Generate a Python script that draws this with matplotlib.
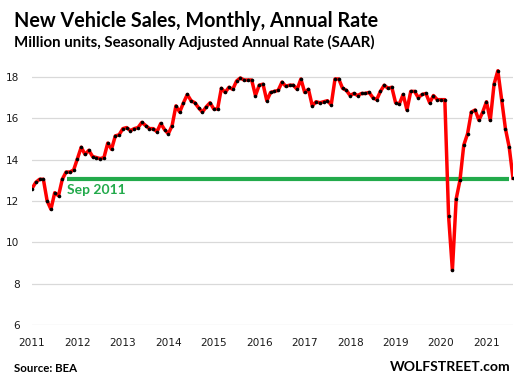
import numpy as np
import matplotlib
matplotlib.use("Agg")
import matplotlib.pyplot as plt

# monthly SAAR, million units, Jan 2011 .. Aug 2021
sales_2011 = [12.6, 12.9, 13.05, 13.05, 12.0, 11.6, 12.4, 12.25, 13.05, 13.4, 13.4, 13.5]
sales_2012 = [14.05, 14.6, 14.25, 14.45, 14.15, 14.1, 14.05, 14.1, 14.8, 14.5, 15.15, 15.2]
sales_2013 = [15.5, 15.55, 15.4, 15.5, 15.55, 15.8, 15.65, 15.5, 15.5, 15.35, 15.75, 15.45]
sales_2014 = [15.25, 15.65, 16.6, 16.3, 16.75, 17.15, 16.85, 16.75, 16.5, 16.3, 16.55, 16.75]
sales_2015 = [16.45, 16.45, 17.45, 17.25, 17.5, 17.4, 17.8, 17.95, 17.85, 17.85, 17.85, 17.1]
sales_2016 = [17.6, 17.65, 16.85, 17.25, 17.3, 17.35, 17.75, 17.55, 17.6, 17.6, 17.4, 17.9]
sales_2017 = [17.25, 17.4, 16.6, 16.8, 16.75, 16.8, 16.85, 16.65, 17.9, 17.9, 17.45, 17.35]
sales_2018 = [17.1, 17.2, 17.1, 17.2, 17.2, 17.25, 17.0, 16.9, 17.3, 17.6, 17.45, 17.5]
sales_2019 = [16.75, 16.7, 17.15, 16.4, 17.3, 17.3, 17.0, 17.15, 17.2, 16.75, 17.1, 16.9]
sales_2020 = [16.9, 16.9, 11.25, 8.65, 12.1, 13.0, 14.7, 15.25, 16.3, 16.4, 15.9, 16.3]
sales_2021 = [16.8, 15.9, 17.65, 18.3, 16.9, 15.5, 14.6, 13.1]

sales = (sales_2011 + sales_2012 + sales_2013 + sales_2014 + sales_2015 + sales_2016
         + sales_2017 + sales_2018 + sales_2019 + sales_2020 + sales_2021)
years = [str(y) for y in range(2011, 2022)]
y_ticks = [6, 8, 10, 12, 14, 16, 18]

ref_level = sales_2011[8]   # Sep 2011
ref_label = "Sep 2011"

x = np.arange(len(sales))

fig = plt.figure(figsize=(5.23, 3.80), dpi=100)
ax = fig.add_axes([32 / 523, 1 - 325 / 380, 481 / 523, (325 - 56.25) / 380])

ax.set_xlim(0, len(sales) - 1)
ax.set_ylim(6, 19)
ax.set_yticks(y_ticks)
ax.set_xticks(np.arange(0, len(sales), 12))
ax.set_xticklabels(years)
for s in ax.spines.values():
    s.set_visible(False)
ax.grid(axis="y", color="#d9d9d9", linewidth=0.9)
ax.set_axisbelow(True)
ax.tick_params(length=0, labelsize=7.6, colors="#1a1a1a")
ax.tick_params(axis="y", pad=9)
ax.tick_params(axis="x", pad=9)

ax.hlines(ref_level, 9.2, 125.9, color="#22aa4b", linewidth=3, zorder=2)
ax.text(9.2, ref_level - 0.25, ref_label, color="#22aa4b", fontsize=10,
        fontweight="bold", family="Lato", va="top", ha="left")

ax.plot(x, sales, color="#ff0000", linewidth=2.5, zorder=3,
        marker="o", markersize=2.6, markerfacecolor="black",
        markeredgecolor="black", markeredgewidth=0)

fig.text(14 / 523, 0.972, "New Vehicle Sales, Monthly, Annual Rate", fontsize=14.2,
         fontweight="bold", family="Lato", va="top", ha="left")
fig.text(14 / 523, 0.908, "Million units, Seasonally Adjusted Annual Rate (SAAR)",
         fontsize=10.8, fontweight="bold", family="Lato", va="top", ha="left")
fig.text(14 / 523, 1 - 372 / 380, "Source: BEA", fontsize=8.3, fontweight="bold",
         family="Lato", va="baseline", ha="left")
fig.text(510 / 523, 1 - 371 / 380, "WOLFSTREET.com", fontsize=10.1, fontweight="bold",
         family="Lato", va="baseline", ha="right")

fig.savefig("out.png", dpi=100)
